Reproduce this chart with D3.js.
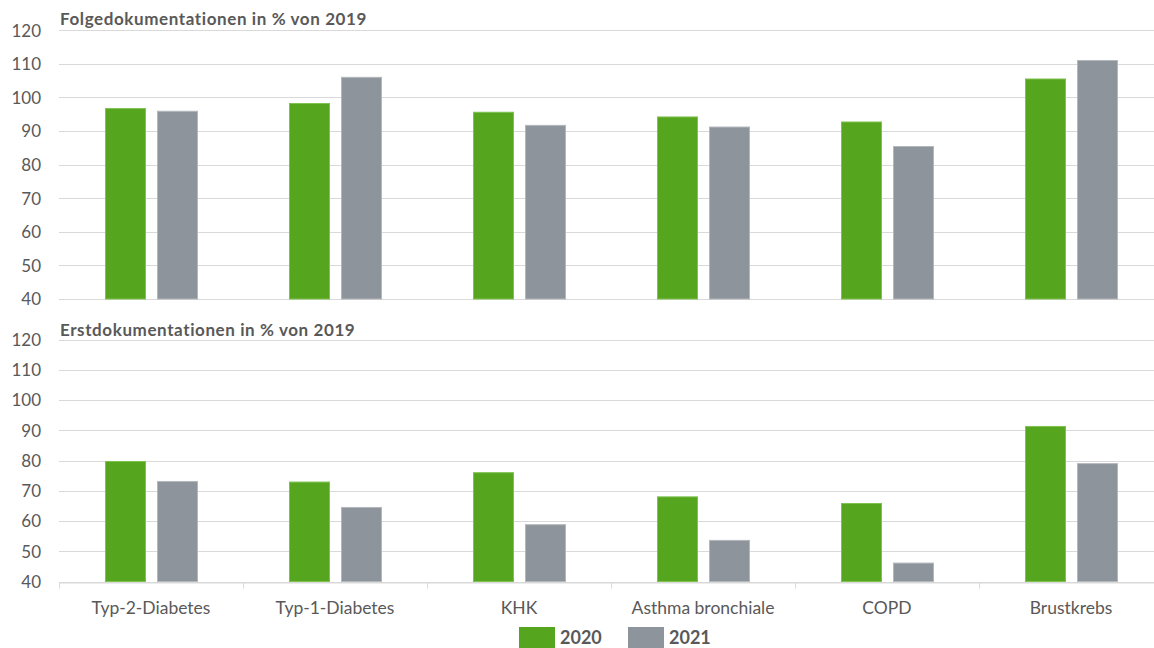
<!DOCTYPE html>
<html>
<head>
<meta charset="utf-8">
<script src="https://cdn.jsdelivr.net/npm/d3@7"></script>
<style>
  html, body { margin: 0; padding: 0; background: #fff; }
  svg { display: block; font-family: Lato, "Open Sans", sans-serif; }
</style>
</head>
<body>
<svg id="chart" width="1154" height="648"></svg>
<script>
const categories = ["Typ-2-Diabetes", "Typ-1-Diabetes", "KHK", "Asthma bronchiale", "COPD", "Brustkrebs"];
const seriesNames = ["2020", "2021"];
const folge2020 = [96.7, 98.2, 95.6, 94.2, 92.7, 105.5];
const folge2021 = [95.9, 106.0, 91.7, 91.2, 85.4, 111.0];
const erst2020 = [79.7, 72.9, 76.0, 68.0, 65.8, 91.3];
const erst2021 = [73.1, 64.5, 58.8, 53.6, 46.1, 79.0];
const yTicks = [40, 50, 60, 70, 80, 90, 100, 110, 120];
const panelTitles = ["Folgedokumentationen in % von 2019", "Erstdokumentationen in % von 2019"];

const colors = { "2020": "#55a51f", "2021": "#8d949b" };
const strokes = { "2020": "#7fc24f", "2021": "#b3b8bd" };
const textColor = "#595959";
const gridColor = "#d9d9d9";

const svg = d3.select("#chart");
const left = 59, right = 1163;

const x = d3.scaleBand().domain(categories).range([left, right]).paddingInner(0).paddingOuter(0);
const xInner = d3.scaleBand().domain(seriesNames).range([46, 139]).paddingInner(11 / 52).paddingOuter(0);

const panels = [
  { title: panelTitles[0], top: 30.3, bottom: 299, data: [folge2020, folge2021], titleY: 25, axis: false },
  { title: panelTitles[1], top: 339.7, bottom: 581.5, data: [erst2020, erst2021], titleY: 336, axis: true }
];

panels.forEach(p => {
  const y = d3.scaleLinear().domain([40, 120]).range([p.bottom, p.top]);
  const g = svg.append("g");

  // gridlines
  g.selectAll("line.grid").data(yTicks).join("line")
    .attr("x1", left).attr("x2", right)
    .attr("y1", d => Math.round(y(d)) + 0.5).attr("y2", d => Math.round(y(d)) + 0.5)
    .attr("stroke", gridColor).attr("stroke-width", 1);

  // y axis labels
  const yAxis = d3.axisLeft(y).tickValues(yTicks).tickSize(0).tickPadding(0);
  const ya = g.append("g").attr("transform", `translate(41,0)`).call(yAxis);
  ya.select(".domain").remove();
  ya.selectAll("text").attr("fill", textColor).style("font-size", "17px")
    .style("font-family", "Lato, 'Open Sans', sans-serif").attr("dy", "0.34em");

  // bars
  const rows = categories.map((c, i) => ({ c, vals: seriesNames.map((s, j) => ({ s, v: p.data[j][i] })) }));
  const cg = g.selectAll("g.cat").data(rows).join("g").attr("transform", d => `translate(${x(d.c)},0)`);
  cg.selectAll("rect").data(d => d.vals).join("rect")
    .attr("x", d => xInner(d.s) + 0.5)
    .attr("width", xInner.bandwidth() - 1)
    .attr("y", d => y(d.v))
    .attr("height", d => p.bottom - y(d.v))
    .attr("fill", d => colors[d.s])
    .attr("stroke", d => strokes[d.s]).attr("stroke-width", 1);

  // title
  svg.append("text").attr("x", 60).attr("y", p.titleY)
    .attr("fill", textColor).style("font-size", "17px").style("font-weight", "bold")
    .style("letter-spacing", "0.6px")
    .text(p.title);

  if (p.axis) {
    const xAxis = d3.axisBottom(x).tickSize(0).tickPadding(0);
    const xa = svg.append("g").attr("transform", `translate(0,${Math.round(p.bottom) + 0.5})`).call(xAxis);
    xa.select(".domain").attr("stroke", gridColor);
    xa.selectAll("text").attr("fill", textColor).style("font-size", "17.5px")
      .style("font-family", "Lato, 'Open Sans', sans-serif").attr("y", 31).attr("dy", 0);
    // category boundary ticks
    const bounds = categories.map(c => x(c)).concat([right]);
    xa.selectAll("line.bound").data(bounds).join("line").attr("class", "bound")
      .attr("x1", d => Math.round(d) + 0.5).attr("x2", d => Math.round(d) + 0.5)
      .attr("y1", 0).attr("y2", 6).attr("stroke", gridColor);
  }
});

// legend
const legend = svg.append("g");
const legendItems = [{ s: "2020", x: 519 }, { s: "2021", x: 628 }];
legend.selectAll("rect").data(legendItems).join("rect")
  .attr("x", d => d.x).attr("y", 627).attr("width", 36).attr("height", 22)
  .attr("fill", d => colors[d.s]);
legend.selectAll("text").data(legendItems).join("text")
  .attr("x", d => d.x + 41).attr("y", 644)
  .attr("fill", textColor).style("font-size", "18px").style("font-weight", "bold")
  .text(d => d.s);
</script>
</body>
</html>
